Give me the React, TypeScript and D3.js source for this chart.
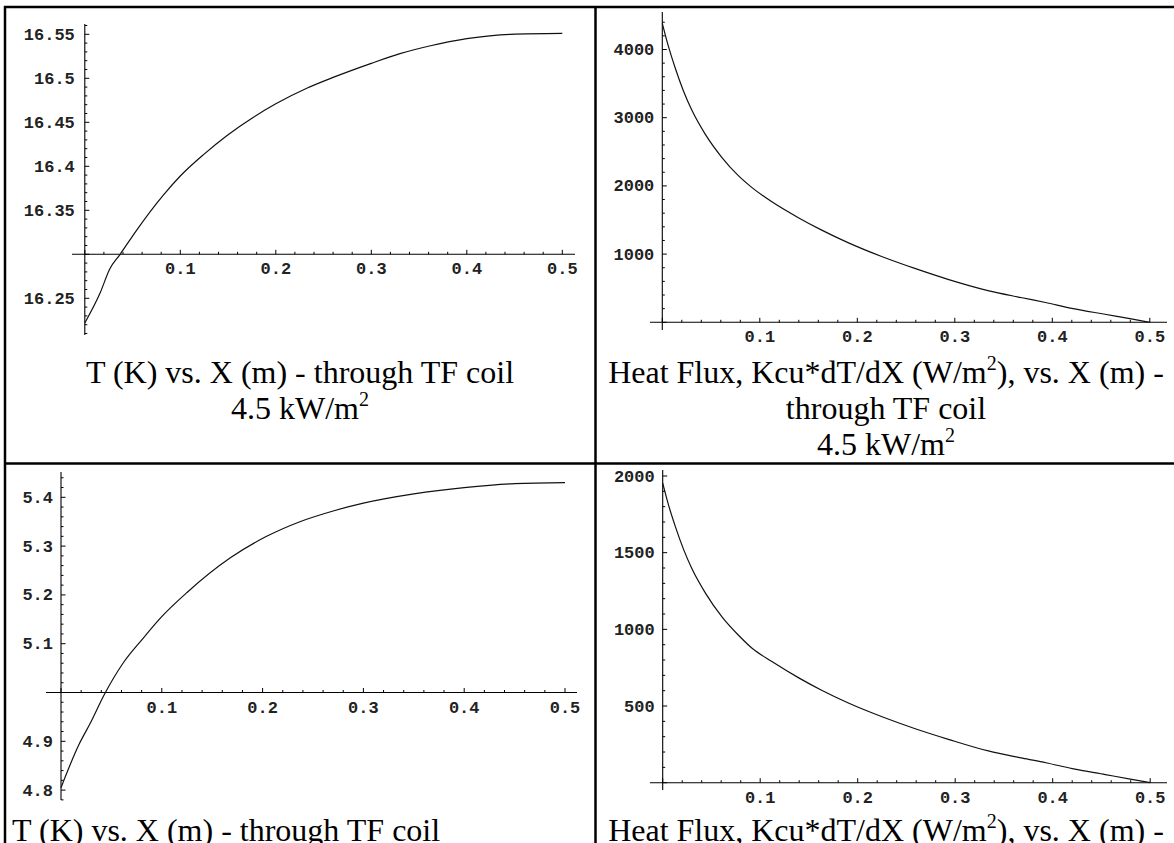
import React from 'react';
import * as d3 from 'd3';

// ---------- data ----------
// Panel 1: T (K) vs X (m), 4.5 kW/m^2
const xT45 = [0, 0.016, 0.026, 0.037, 0.054, 0.082, 0.1, 0.124, 0.149, 0.177, 0.2, 0.233, 0.26, 0.3, 0.33, 0.362, 0.4, 0.446, 0.5];
const tT45 = [16.222, 16.256, 16.283, 16.3, 16.327, 16.367, 16.389, 16.413, 16.435, 16.456, 16.471, 16.489, 16.501, 16.517, 16.528, 16.537, 16.545, 16.55, 16.551];

// Panel 2: heat flux (W/m^2) vs X (m), 4.5 kW/m^2
const xQ45 = [0, 0.006, 0.013, 0.0215, 0.03, 0.044, 0.061, 0.078, 0.092, 0.112, 0.14, 0.163, 0.191, 0.225, 0.259, 0.293, 0.334, 0.369, 0.393, 0.42, 0.454, 0.481, 0.5];
const qQ45 = [4384, 4060, 3740, 3400, 3120, 2760, 2420, 2150, 1975, 1770, 1530, 1355, 1165, 965, 790, 630, 465, 360, 290, 205, 118, 50, 0];

// Panel 3: T (K) vs X (m), second case
const xT2 = [0, 0.0177, 0.029, 0.043, 0.0615, 0.081, 0.0997, 0.125, 0.168, 0.204, 0.237, 0.27, 0.3, 0.35, 0.4, 0.45, 0.5];
const tT2 = [4.805, 4.893, 4.937, 4.996, 5.06, 5.11, 5.155, 5.205, 5.276, 5.32, 5.35, 5.372, 5.388, 5.407, 5.42, 5.428, 5.43];

// Panel 4: heat flux (W/m^2) vs X (m), second case
const xQ2 = [0, 0.006, 0.013, 0.0215, 0.03, 0.044, 0.061, 0.078, 0.092, 0.112, 0.14, 0.163, 0.191, 0.225, 0.259, 0.293, 0.334, 0.369, 0.393, 0.42, 0.454, 0.481, 0.5];
const qQ2 = [1953, 1810, 1670, 1520, 1395, 1235, 1080, 960, 875, 790, 682, 603, 518, 430, 352, 283, 207, 160, 130, 92, 53, 22, 0];

// tick labels
const xTickLabels = [0.1, 0.2, 0.3, 0.4, 0.5];
const tTicks45 = [16.25, 16.35, 16.4, 16.45, 16.5, 16.55];
const qTicks45 = [1000, 2000, 3000, 4000];
const tTicks2 = [4.8, 4.9, 5.1, 5.2, 5.3, 5.4];
const qTicks2 = [500, 1000, 1500, 2000];

// captions
const capT = 'T (K) vs. X (m) - through TF coil';
const capQa = 'Heat Flux, Kcu*dT/dX (W/m';
const capQb = '), vs. X (m) -';
const capThrough = 'through TF coil';
const capLoad = '4.5 kW/m';

// ---------- layout ----------
type PanelCfg = {
  xs: [number, number];
  yDom: [number, number];
  yPx: [number, number];
  yOrigin: number;
  xAxisPx: [number, number];
  yAxisPx: [number, number];
  xMinor: number;
  xMajor: number;
  yMinor: number;
  yMajor: number;
  yLabelGap: number;
  yTicks: number[];
  xData: number[];
  yData: number[];
};

const panels: PanelCfg[] = [
  { xs: [84.8, 562.3], yDom: [16.3, 16.55], yPx: [254.3, 34.3], yOrigin: 16.3, xAxisPx: [72, 575], yAxisPx: [24, 335], xMinor: 0.02, xMajor: 0.1, yMinor: 0.01, yMajor: 0.05, yLabelGap: 10, yTicks: tTicks45, xData: xT45, yData: tT45 },
  { xs: [662.3, 1149.8], yDom: [0, 4000], yPx: [322.3, 49.5], yOrigin: 0, xAxisPx: [650, 1167], yAxisPx: [12, 330], xMinor: 0.02, xMajor: 0.1, yMinor: 200, yMajor: 1000, yLabelGap: 8, yTicks: qTicks45, xData: xQ45, yData: qQ45 },
  { xs: [61, 565], yDom: [5.0, 5.4], yPx: [692.5, 497.3], yOrigin: 5.0, xAxisPx: [46, 577], yAxisPx: [472, 800], xMinor: 0.02, xMajor: 0.1, yMinor: 0.02, yMajor: 0.1, yLabelGap: 8, yTicks: tTicks2, xData: xT2, yData: tT2 },
  { xs: [662.7, 1150.2], yDom: [0, 2000], yPx: [782.7, 476], yOrigin: 0, xAxisPx: [650, 1167], yAxisPx: [470, 790], xMinor: 0.02, xMajor: 0.1, yMinor: 100, yMajor: 500, yLabelGap: 8, yTicks: qTicks2, xData: xQ2, yData: qQ2 },
];

const tickFont = '"Liberation Mono", "DejaVu Sans Mono", monospace';
const capFont = '"Liberation Serif", "Times New Roman", serif';

function isMult(v: number, step: number) {
  const r = v / step;
  return Math.abs(r - Math.round(r)) < 1e-6;
}

function Panel({ cfg }: { cfg: PanelCfg }) {
  const x = d3.scaleLinear().domain([0, 0.5]).range(cfg.xs);
  const y = d3.scaleLinear().domain(cfg.yDom).range(cfg.yPx);
  const x0 = x(0);
  const y0 = y(cfg.yOrigin);
  const xLo = x.invert(cfg.xAxisPx[0]);
  const xHi = x.invert(cfg.xAxisPx[1]);
  const yLo = y.invert(cfg.yAxisPx[1]);
  const yHi = y.invert(cfg.yAxisPx[0]);
  const xt = d3.range(Math.ceil(xLo / cfg.xMinor - 1e-9), Math.floor(xHi / cfg.xMinor + 1e-9) + 1).map((i) => i * cfg.xMinor);
  const yt = d3.range(Math.ceil(yLo / cfg.yMinor - 1e-9), Math.floor(yHi / cfg.yMinor + 1e-9) + 1).map((i) => i * cfg.yMinor);
  const pts: [number, number][] = cfg.xData.map((v, i) => [v, cfg.yData[i]]);
  const line = d3
    .line<[number, number]>()
    .x((d) => x(d[0]))
    .y((d) => y(d[1]))
    .curve(d3.curveMonotoneX);
  return (
    <g>
      <line x1={cfg.xAxisPx[0]} x2={cfg.xAxisPx[1]} y1={y0} y2={y0} stroke="#000" strokeWidth={1.1} />
      <line x1={x0} x2={x0} y1={cfg.yAxisPx[0]} y2={cfg.yAxisPx[1]} stroke="#000" strokeWidth={1.1} />
      {xt.map((v, i) => {
        const major = isMult(v, cfg.xMajor);
        return <line key={'xt' + i} x1={x(v)} x2={x(v)} y1={y0} y2={y0 - (major ? 4.5 : 2.5)} stroke="#000" strokeWidth={1} />;
      })}
      {yt.map((v, i) => {
        const major = isMult(v, cfg.yMajor);
        return <line key={'yt' + i} x1={x0} x2={x0 + (major ? 4.5 : 2.5)} y1={y(v)} y2={y(v)} stroke="#000" strokeWidth={1} />;
      })}
      {xTickLabels.map((v) => (
        <text key={'xl' + v} x={x(v)} y={y0 + 20} textAnchor="middle" fontFamily={tickFont} fontWeight="bold" fontSize={17} fill="#222">
          {String(v)}
        </text>
      ))}
      {cfg.yTicks.map((v) => (
        <text key={'yl' + v} x={x0 - cfg.yLabelGap} y={y(v) + 5.5} textAnchor="end" fontFamily={tickFont} fontWeight="bold" fontSize={17} fill="#222">
          {String(v)}
        </text>
      ))}
      <path d={line(pts) || ''} fill="none" stroke="#111" strokeWidth={1.2} />
    </g>
  );
}

export default function App() {
  const W = 1174;
  const H = 843;
  const capSize = 32;
  return (
    <svg width={W} height={H} style={{ position: 'absolute', left: 0, top: 0, background: '#fff' }} xmlns="http://www.w3.org/2000/svg">
      <rect x={0} y={0} width={W} height={H} fill="#fff" />
      {panels.map((p, i) => (
        <Panel key={i} cfg={p} />
      ))}
      <g fontFamily={capFont} fontSize={capSize} fill="#000">
        <text x={300} y={383} textAnchor="middle">{capT}</text>
        <text x={300} y={419} textAnchor="middle">
          {capLoad}
          <tspan dy={-13} fontSize={20}>2</tspan>
        </text>
        <text x={886} y={383} textAnchor="middle">
          {capQa}
          <tspan dy={-13} fontSize={20}>2</tspan>
          <tspan dy={13}>{capQb}</tspan>
        </text>
        <text x={886} y={419} textAnchor="middle">{capThrough}</text>
        <text x={886} y={455} textAnchor="middle">
          {capLoad}
          <tspan dy={-13} fontSize={20}>2</tspan>
        </text>
        <text x={12} y={841} textAnchor="start">{capT}</text>
        <text x={886} y={841} textAnchor="middle">
          {capQa}
          <tspan dy={-13} fontSize={20}>2</tspan>
          <tspan dy={13}>{capQb}</tspan>
        </text>
      </g>
      <g stroke="#000" strokeWidth={2.5}>
        <line x1={4} x2={W} y1={7} y2={7} />
        <line x1={5} x2={5} y1={6} y2={H} />
        <line x1={595.5} x2={595.5} y1={6} y2={H} />
        <line x1={4} x2={W} y1={463.5} y2={463.5} />
      </g>
    </svg>
  );
}
